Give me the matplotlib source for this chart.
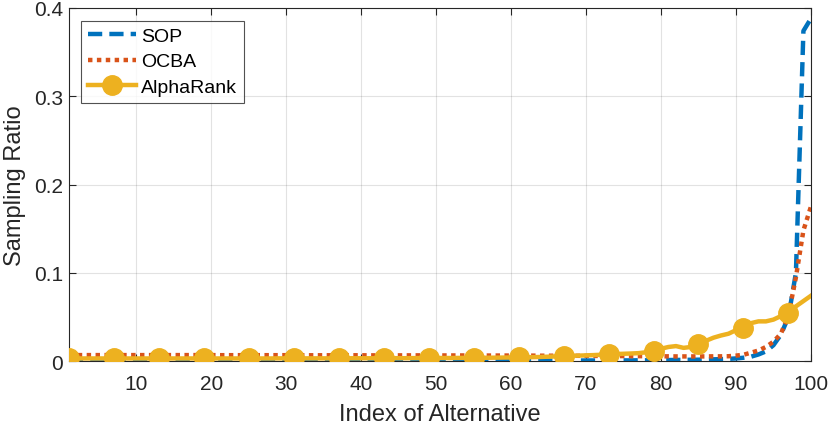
import matplotlib.pyplot as plt
import numpy as np

# ----- DATA -----
alternatives = np.arange(1, 101)

sop = [
    0.0004, 0.0004, 0.0004, 0.0004, 0.0004, 0.0004, 0.0004, 0.0004, 0.0004, 0.0004,
    0.0004, 0.0004, 0.0004, 0.0004, 0.0004, 0.0004, 0.0004, 0.0004, 0.0004, 0.0004,
    0.0004, 0.0004, 0.0004, 0.0004, 0.0004, 0.0004, 0.0004, 0.0004, 0.0004, 0.0004,
    0.0004, 0.0004, 0.0004, 0.0004, 0.0004, 0.0004, 0.0004, 0.0004, 0.0004, 0.0004,
    0.0004, 0.0004, 0.0004, 0.0004, 0.0004, 0.0004, 0.0004, 0.0004, 0.0004, 0.0004,
    0.0005, 0.0005, 0.0005, 0.0005, 0.0005, 0.0005, 0.0005, 0.0005, 0.0005, 0.0005,
    0.0005, 0.0005, 0.0005, 0.0006, 0.0006, 0.0006, 0.0006, 0.0006, 0.0006, 0.0007,
    0.0007, 0.0007, 0.0007, 0.0008, 0.0008, 0.0008, 0.0009, 0.0009, 0.0010, 0.0011,
    0.0012, 0.0013, 0.0014, 0.0015, 0.0016, 0.0018, 0.0020, 0.0022, 0.0025, 0.0030,
    0.0038, 0.0050, 0.0075, 0.0110, 0.0180, 0.0300, 0.0500, 0.1000, 0.3740, 0.3880,
]

ocba = [
    0.0068, 0.0068, 0.0068, 0.0068, 0.0068, 0.0068, 0.0068, 0.0068, 0.0068, 0.0068,
    0.0068, 0.0068, 0.0068, 0.0068, 0.0068, 0.0068, 0.0068, 0.0068, 0.0068, 0.0068,
    0.0067, 0.0067, 0.0067, 0.0067, 0.0067, 0.0067, 0.0067, 0.0067, 0.0067, 0.0067,
    0.0066, 0.0066, 0.0066, 0.0066, 0.0066, 0.0066, 0.0066, 0.0066, 0.0066, 0.0066,
    0.0065, 0.0065, 0.0065, 0.0065, 0.0065, 0.0065, 0.0065, 0.0065, 0.0065, 0.0065,
    0.0064, 0.0064, 0.0064, 0.0064, 0.0064, 0.0063, 0.0063, 0.0063, 0.0063, 0.0063,
    0.0062, 0.0062, 0.0062, 0.0061, 0.0061, 0.0061, 0.0060, 0.0060, 0.0060, 0.0059,
    0.0059, 0.0058, 0.0058, 0.0057, 0.0057, 0.0056, 0.0056, 0.0055, 0.0055, 0.0054,
    0.0054, 0.0053, 0.0053, 0.0053, 0.0053, 0.0053, 0.0054, 0.0054, 0.0055, 0.0062,
    0.0072, 0.0095, 0.0120, 0.0160, 0.0220, 0.0310, 0.0520, 0.0950, 0.1480, 0.1750,
]

alpharank = [
    0.0030, 0.0030, 0.0030, 0.0030, 0.0030, 0.0030, 0.0030, 0.0030, 0.0030, 0.0030,
    0.0030, 0.0030, 0.0030, 0.0030, 0.0030, 0.0030, 0.0030, 0.0030, 0.0030, 0.0030,
    0.0030, 0.0030, 0.0030, 0.0030, 0.0030, 0.0030, 0.0030, 0.0030, 0.0031, 0.0031,
    0.0031, 0.0031, 0.0031, 0.0031, 0.0031, 0.0031, 0.0032, 0.0032, 0.0032, 0.0032,
    0.0032, 0.0032, 0.0033, 0.0033, 0.0033, 0.0033, 0.0034, 0.0034, 0.0034, 0.0035,
    0.0035, 0.0035, 0.0036, 0.0036, 0.0037, 0.0037, 0.0038, 0.0039, 0.0040, 0.0041,
    0.0042, 0.0043, 0.0045, 0.0047, 0.0050, 0.0053, 0.0057, 0.0060, 0.0062, 0.0065,
    0.0068, 0.0072, 0.0076, 0.0080, 0.0083, 0.0086, 0.0090, 0.0100, 0.0113, 0.0140,
    0.0160, 0.0170, 0.0150, 0.0160, 0.0190, 0.0230, 0.0265, 0.0290, 0.0310, 0.0350,
    0.0380, 0.0430, 0.0450, 0.0450, 0.0470, 0.0510, 0.0550, 0.0620, 0.0680, 0.0740,
]

x_ticks = [10, 20, 30, 40, 50, 60, 70, 80, 90, 100]
y_ticks = [0, 0.1, 0.2, 0.3, 0.4]
y_tick_labels = ["0", "0.1", "0.2", "0.3", "0.4"]

# ----- PLOT -----
plt.rcParams['font.family'] = ['Liberation Sans', 'DejaVu Sans']

fig = plt.figure(figsize=(8.3, 4.27), dpi=100)
ax = fig.add_axes([0.083, 0.152, 0.894, 0.827])

ax.plot(alternatives, sop, linestyle='--', dashes=(3.2, 1.6), color='#0072BD', linewidth=3.2, label='SOP', zorder=3)
ax.plot(alternatives, ocba, linestyle=':', dashes=(1.0, 1.0), color='#D95319', linewidth=3.2, label='OCBA', zorder=3)
ax.plot(alternatives, alpharank, linestyle='-', color='#EDB120', linewidth=3.2, marker='o', markersize=14,
        markevery=6, label='AlphaRank', zorder=4)

ax.set_xlim(1, 100)
ax.set_ylim(0, 0.4)
ax.set_xticks(x_ticks)
ax.set_yticks(y_ticks)
ax.set_yticklabels(y_tick_labels)

ax.grid(True, color='#262626', alpha=0.13, linewidth=0.8)
ax.set_axisbelow(True)
ax.tick_params(direction='in', top=True, right=True, length=5, width=0.8, colors='#262626', labelsize=15, pad=4)
ax.tick_params(axis='x', pad=9)
for spine in ax.spines.values():
    spine.set_color('#262626')
    spine.set_linewidth(0.8)

ax.set_xlabel("Index of Alternative", fontsize=17, color='#262626', labelpad=7.5)
ax.set_ylabel("Sampling Ratio", fontsize=17, color='#262626', labelpad=6)

leg = ax.legend(loc='upper left', fontsize=14, frameon=True, fancybox=False, edgecolor='#262626',
                handlelength=2.5, borderpad=0.35, labelspacing=0.4, handletextpad=0.25,
                bbox_to_anchor=(0.016, 0.964), borderaxespad=0)
leg.get_frame().set_linewidth(0.8)

plt.savefig("out.png", dpi=100)
